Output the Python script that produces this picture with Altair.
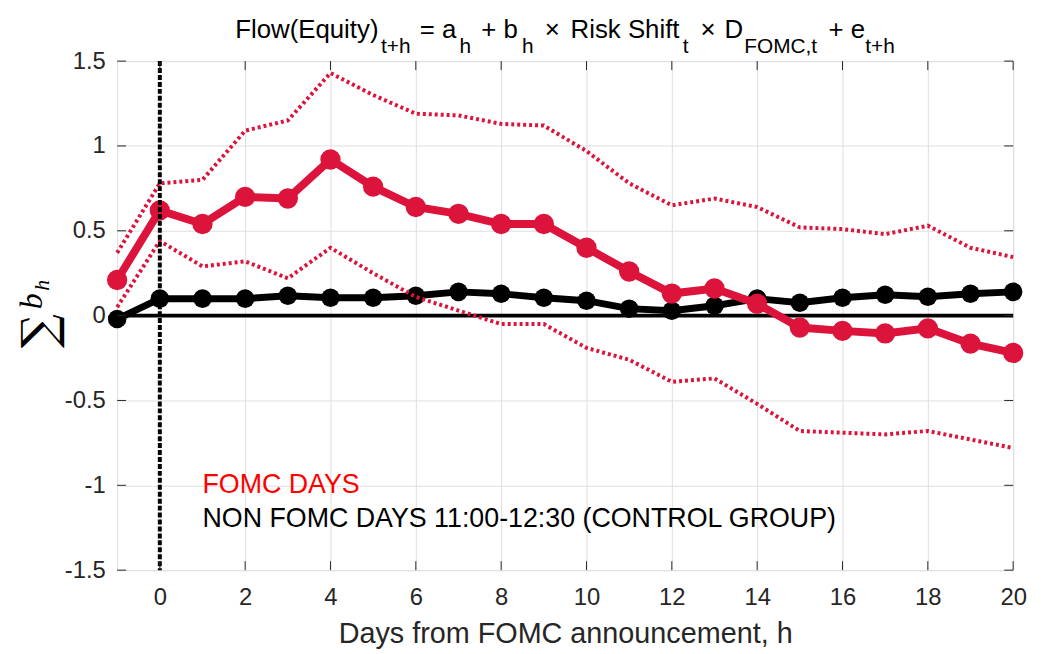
import altair as alt
import pandas as pd

# ---------------- data ----------------
H = list(range(-1, 21))
FOMC = [0.21, 0.62, 0.54, 0.70, 0.69, 0.92, 0.76, 0.64, 0.60, 0.54, 0.54,
        0.40, 0.26, 0.13, 0.16, 0.07, -0.07, -0.09, -0.105, -0.075, -0.165, -0.22]
CONTROL = [-0.02, 0.10, 0.10, 0.10, 0.117, 0.105, 0.105, 0.117, 0.14, 0.129, 0.105,
           0.088, 0.041, 0.029, 0.058, 0.10, 0.076, 0.105, 0.123, 0.111, 0.129, 0.14]
UPPER = [0.37, 0.78, 0.80, 1.09, 1.15, 1.43, 1.30, 1.19, 1.18, 1.13, 1.12,
         0.97, 0.78, 0.65, 0.69, 0.64, 0.52, 0.51, 0.48, 0.53, 0.40, 0.345]
LOWER = [0.05, 0.44, 0.29, 0.32, 0.22, 0.40, 0.25, 0.11, 0.03, -0.05, -0.05,
         -0.19, -0.26, -0.39, -0.37, -0.52, -0.68, -0.69, -0.70, -0.68, -0.73, -0.78]

X_TICKS = [0, 2, 4, 6, 8, 10, 12, 14, 16, 18, 20]
Y_TICKS = [-1.5, -1.0, -0.5, 0.0, 0.5, 1.0, 1.5]

LEGEND_TEXT = ["FOMC DAYS", "NON FOMC DAYS 11:00-12:30 (CONTROL GROUP)"]
LEGEND_H = [1, 1]
LEGEND_V = [-1.0, -1.2]

X_TITLE = "Days from FOMC announcement, h"
TITLE_PARTS = ["Flow(Equity)", "t+h", "= a", "h", "+ b", "h", "\u00d7", "Risk Shift", "t",
               "\u00d7", "D", "FOMC,t", "+ e", "t+h"]
TITLE_SUB = [False, True, False, True, False, True, False, False, True,
             False, False, True, False, True]

# ---------------- layout (pixels relative to plot area) ----------------
W, HGT = 903, 513
TITLE_X = [119, 266, 305, 345, 367, 408, 431, 457, 570, 588, 612, 632, 717, 754]
CRIMSON = "#DC143C"
DARK = "#262626"
FONT = "Liberation Sans"

df = pd.DataFrame({"h": H, "fomc": FOMC, "control": CONTROL, "upper": UPPER, "lower": LOWER})

xscale = alt.Scale(domain=[-1, 20], nice=False, zero=False)
yscale = alt.Scale(domain=[-1.5, 1.5], nice=False, zero=False)
xaxis = alt.Axis(values=X_TICKS, grid=True, gridColor="#DFDFDF", tickSize=0, domain=False,
                 labelFontSize=24, labelColor=DARK, labelFont=FONT, labelPadding=16,
                 titleFontSize=29, titleColor=DARK, titleFont=FONT, titleFontWeight="normal",
                 titlePadding=10, labelFlush=False)
yaxis = alt.Axis(values=Y_TICKS, grid=True, gridColor="#DFDFDF", tickSize=0, domain=False,
                 labelFontSize=24, labelColor=DARK, labelFont=FONT, labelPadding=12,
                 labelExpr="toString(datum.value)", labelFlush=False)


def X(field):
    return alt.X(field, type="quantitative", scale=xscale, axis=xaxis, title=X_TITLE)


def Y(field):
    return alt.Y(field, type="quantitative", scale=yscale, axis=yaxis, title=None)


base = alt.Chart(df)

zero_line = alt.Chart(pd.DataFrame({"v": [0.0]})).mark_rule(color="black", strokeWidth=4).encode(
    y=Y("v"))

ctrl_line = base.mark_line(color="black", strokeWidth=7).encode(x=X("h"), y=Y("control"))
ctrl_pts = base.mark_circle(color="black", size=350, opacity=1).encode(x=X("h"), y=Y("control"))

up_line = base.mark_line(color=CRIMSON, strokeWidth=4, strokeDash=[3, 3]).encode(
    x=X("h"), y=Y("upper"))
lo_line = base.mark_line(color=CRIMSON, strokeWidth=4, strokeDash=[3, 3]).encode(
    x=X("h"), y=Y("lower"))

fomc_line = base.mark_line(color=CRIMSON, strokeWidth=8).encode(x=X("h"), y=Y("fomc"))
fomc_pts = base.mark_circle(color=CRIMSON, size=420, opacity=1).encode(x=X("h"), y=Y("fomc"))

vline = alt.Chart(pd.DataFrame({"h": [0]})).mark_rule(
    color="black", strokeWidth=4, strokeDash=[5, 2]).encode(x=X("h"))

# inward ticks on all four sides
xt = alt.Chart(pd.DataFrame({"h": X_TICKS}))
yt = alt.Chart(pd.DataFrame({"v": Y_TICKS}))
tick_top = xt.mark_rule(color=DARK, strokeWidth=1).encode(x=X("h"), y=alt.value(0), y2=alt.value(9))
tick_bot = xt.mark_rule(color=DARK, strokeWidth=1).encode(x=X("h"), y=alt.value(HGT), y2=alt.value(HGT - 9))
tick_left = yt.mark_rule(color=DARK, strokeWidth=1).encode(y=Y("v"), x=alt.value(0), x2=alt.value(9))
tick_right = yt.mark_rule(color=DARK, strokeWidth=1).encode(y=Y("v"), x=alt.value(W), x2=alt.value(W - 9))

leg_df = pd.DataFrame({"h": LEGEND_H, "v": LEGEND_V, "t": LEGEND_TEXT, "c": ["#FF0000", "#000000"]})
legend = alt.Chart(leg_df).mark_text(align="left", baseline="middle", fontSize=27, font=FONT).encode(
    x=X("h"), y=Y("v"), text="t:N", color=alt.Color("c:N", scale=None))

# title pieces
title_layers = []
for txt, sub, px in zip(TITLE_PARTS, TITLE_SUB, TITLE_X):
    title_layers.append(
        alt.Chart(pd.DataFrame({"t": [txt]})).mark_text(
            align="left", baseline="alphabetic", font=FONT,
            fontSize=21 if sub else 26, color="black"
        ).encode(x=alt.value(px), y=alt.value(-8 if sub else -23), text="t:N")
    )

# y label: sum b_h (rotated)
ylab = [
    alt.Chart(pd.DataFrame({"t": ["\u2211"]})).mark_text(
        align="center", baseline="middle", font="DejaVu Serif", fontSize=48, angle=270, color="black"
    ).encode(x=alt.value(-77), y=alt.value(272), text="t:N"),
    alt.Chart(pd.DataFrame({"t": ["b"]})).mark_text(
        align="center", baseline="middle", font="Liberation Serif", fontStyle="italic",
        fontSize=32, angle=270, color="black"
    ).encode(x=alt.value(-86), y=alt.value(242), text="t:N"),
    alt.Chart(pd.DataFrame({"t": ["h"]})).mark_text(
        align="center", baseline="middle", font="Liberation Serif", fontStyle="italic",
        fontSize=22, angle=270, color="black"
    ).encode(x=alt.value(-76), y=alt.value(226), text="t:N"),
]

chart = alt.layer(
    ctrl_line, zero_line, ctrl_pts, up_line, lo_line, fomc_line, fomc_pts, vline,
    tick_top, tick_bot, tick_left, tick_right, legend, *title_layers, *ylab
).properties(
    width=W, height=HGT,
    autosize=alt.AutoSizeParams(type="none"),
    padding={"left": 110, "top": 51, "right": 20, "bottom": 82},
).configure_view(stroke=DARK, strokeWidth=1).configure(background="white")

chart.save("out.html", embed_options={"renderer": "svg", "actions": False})
